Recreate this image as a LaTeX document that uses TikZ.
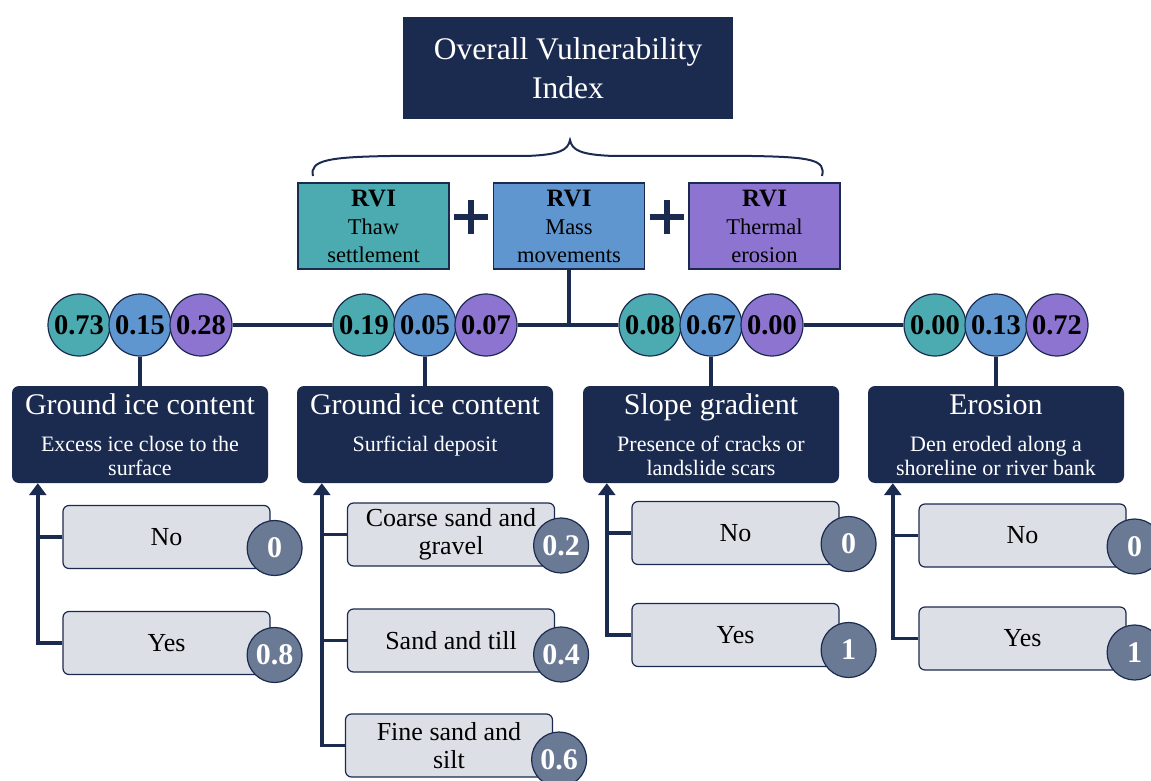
\documentclass[tikz,border=0pt]{standalone}
\usepackage{fontspec}
\setmainfont{Liberation Serif}
\usetikzlibrary{positioning,arrows.meta}

\definecolor{navy}{HTML}{1B2A4F}
\definecolor{teal}{HTML}{4BABB1}
\definecolor{skyblue}{HTML}{6096CF}
\definecolor{lilac}{HTML}{8D74D1}
\definecolor{optgrey}{HTML}{DCDFE5}
\definecolor{slate}{HTML}{6B7A94}

\newcommand{\fsz}[1]{\fontsize{#1}{#1}\selectfont}

% three weights above each indicator
\newcommand{\scores}[5]
{
  \node[score, fill=teal]    (#1a) at (#2-61,325) {#3};
  \node[score, fill=skyblue] (#1b) at (#2,325)    {#4};
  \node[score, fill=lilac]   (#1c) at (#2+61,325) {#5};
}

\tikzset{
  titlebox/.style={fill=navy, text=white, minimum width=330, minimum height=102,
    align=center, font=\fontsize{31.5}{39}\selectfont, inner sep=0pt},
  rvibox/.style={draw=navy, line width=1.4pt, minimum width=151, minimum height=86,
    align=center, font=\fontsize{22.5}{28}\selectfont, inner sep=0pt},
  catbox/.style={rounded corners=7, fill=navy, minimum width=256, minimum height=97},
  cattitle/.style={text=white, font=\fsz{30}, inner sep=0pt, anchor=base},
  catsub/.style={text=white, align=center, font=\fontsize{22}{24}\selectfont, inner sep=0pt},
  optbox/.style={rounded corners=6, draw=navy, line width=1.2pt, fill=optgrey,
    minimum width=207, minimum height=63, align=center,
    font=\fontsize{26}{28}\selectfont, inner sep=0pt},
  value/.style={circle, draw=navy, line width=1.2pt, fill=slate, minimum size=55,
    inner sep=0pt, text=white, font=\bfseries\fsz{30}},
  score/.style={circle, draw=navy, line width=1.2pt, minimum size=62, inner sep=0pt,
    font=\bfseries\fsz{28.5}},
  link/.style={navy, line width=3.5pt},
  tree/.style={link, -{Triangle[width=17pt,length=12pt]}},
  plus/.style={navy, line width=6.5pt}
}

\begin{document}
\begin{tikzpicture}[x=1pt, y=-1pt]
  \useasboundingbox (0,0) rectangle (1151,781);

  \node[titlebox] (ovi) at (568,68) {Overall Vulnerability\\Index};

  % brace under the index
  \draw[navy, line width=2pt]
  (313,176) .. controls (309,160) and (330,157) .. (390,156) --
  (525,156) .. controls (560,155) and (568,150) .. (570,140)
  .. controls (572,150) and (580,155) .. (615,156) --
  (752,156) .. controls (812,157) and (826,160) .. (822,176);

  \node[rvibox, fill=teal]    (thaw)    at (373.5,226) {{\bfseries\fsz{25}RVI}\\Thaw\\settlement};
  \node[rvibox, fill=skyblue] (mass)    at (569,226)   {{\bfseries\fsz{25}RVI}\\Mass\\movements};
  \node[rvibox, fill=lilac]   (thermal) at (764.5,226) {{\bfseries\fsz{25}RVI}\\Thermal\\erosion};

  \coordinate (p1) at (471,217);
  \coordinate (p2) at (667,217);
  \draw[plus] ([xshift=-17]p1) -- ([xshift=17]p1);
  \draw[plus] ([yshift=-17]p1) -- ([yshift=17]p1);
  \draw[plus] ([xshift=-17]p2) -- ([xshift=17]p2);
  \draw[plus] ([yshift=-17]p2) -- ([yshift=17]p2);

  \scores{ice}{140}{0.73}{0.15}{0.28}
  \scores{dep}{425}{0.19}{0.05}{0.07}
  \scores{slope}{711}{0.08}{0.67}{0.00}
  \scores{ero}{996}{0.00}{0.13}{0.72}

  \draw[link] (icec.east) -- (depa.west);
  \draw[link] (depc.east) -- (slopea.west);
  \draw[link] (slopec.east) -- (eroa.west);
  \draw[link] (mass.south) -- (mass.south |- depc.east);

  % indicator boxes
  \node[catbox] (ice)   at (140,434.5) {};
  \node[catbox] (dep)   at (425,434.5) {};
  \node[catbox] (slope) at (711,434.5) {};
  \node[catbox] (ero)   at (996,434.5) {};

  \node[cattitle] (icet)   at ([yshift=-29]ice.north)   {Ground ice content};
  \node[cattitle] (dept)   at ([yshift=-29]dep.north)   {Ground ice content};
  \node[cattitle] (slopet) at ([yshift=-29]slope.north) {Slope gradient};
  \node[cattitle] (erot)   at ([yshift=-29]ero.north)   {Erosion};

  \node[catsub, anchor=north] (ices)   at ([yshift=-50]ice.north)   {Excess ice close to the\\surface};
  \node[catsub, anchor=north] (deps)   at ([yshift=-50]dep.north)   {Surficial deposit};
  \node[catsub, anchor=north] (slopes) at ([yshift=-50]slope.north) {Presence of cracks or\\landslide scars};
  \node[catsub, anchor=north] (eros)   at ([yshift=-50]ero.north)   {Den eroded along a\\shoreline or river bank};

  \draw[link] (iceb.south) -- (ice.north);
  \draw[link] (depb.south) -- (dep.north);
  \draw[link] (slopeb.south) -- (slope.north);
  \draw[link] (erob.south) -- (ero.north);

  % classes
  \node[optbox] (iceno)  at (166.5,537) {No};
  \node[optbox] (iceyes) at (166.5,643) {Yes};
  \node[optbox] (depcs)  at (451,534.5) {Coarse sand and\\gravel};
  \node[optbox] (depst)  at (451,640.5) {Sand and till};
  \node[optbox] (depfs)  at (449,745.5) {Fine sand and\\silt};
  \node[optbox] (slopeno)  at (735.5,533) {No};
  \node[optbox] (slopeyes) at (735.5,635) {Yes};
  \node[optbox] (erono)  at (1022.5,535.5) {No};
  \node[optbox] (eroyes) at (1022.5,638.5) {Yes};

  \node[value] (v1) at ([xshift=4,yshift=-11]iceno.east)  {0};
  \node[value] (v2) at ([xshift=4,yshift=-12]iceyes.east) {0.8};
  \node[value] (v3) at ([xshift=6,yshift=-11]depcs.east)  {0.2};
  \node[value] (v4) at ([xshift=6,yshift=-14]depst.east)  {0.4};
  \node[value] (v5) at ([xshift=6,yshift=-14]depfs.east)  {0.6};
  \node[value] (v6) at ([xshift=9,yshift=-11]slopeno.east)  {0};
  \node[value] (v7) at ([xshift=9,yshift=-15]slopeyes.east) {1};
  \node[value] (v8) at ([xshift=8,yshift=-11]erono.east)  {0};
  \node[value] (v9) at ([xshift=8,yshift=-14]eroyes.east) {1};

  \coordinate (a1) at ([xshift=26]ice.south west);
  \coordinate (a2) at ([xshift=25]dep.south west);
  \coordinate (a3) at ([xshift=24]slope.south west);
  \coordinate (a4) at ([xshift=25]ero.south west);

  \draw[tree] (iceyes.west) -| (a1);
  \draw[link] (iceno.west) -- (iceno.west -| a1);
  \draw[tree] (depfs.west) -| (a2);
  \draw[link] (depcs.west) -- (depcs.west -| a2);
  \draw[link] (depst.west) -- (depst.west -| a2);
  \draw[tree] (slopeyes.west) -| (a3);
  \draw[link] (slopeno.west) -- (slopeno.west -| a3);
  \draw[tree] (eroyes.west) -| (a4);
  \draw[link] (erono.west) -- (erono.west -| a4);

\end{tikzpicture}
\end{document}
